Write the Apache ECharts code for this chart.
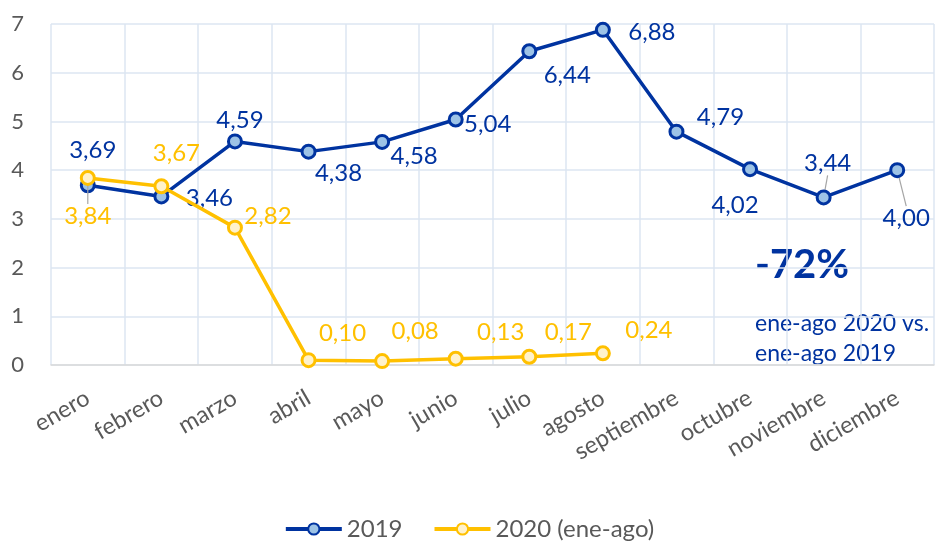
<!DOCTYPE html>
<html>
<head>
<meta charset="utf-8">
<script src="https://cdn.jsdelivr.net/npm/echarts@6/dist/echarts.min.js"></script>
<style>
html,body{margin:0;padding:0;background:#fff;}
#chart{width:938px;height:548px;}
</style>
</head>
<body>
<div id="chart"></div>
<script>
var categories = ['enero','febrero','marzo','abril','mayo','junio','julio','agosto','septiembre','octubre','noviembre','diciembre'];
var values2019 = [3.69, 3.46, 4.59, 4.38, 4.58, 5.04, 6.44, 6.88, 4.79, 4.02, 3.44, 4.00];
var values2020 = [3.84, 3.67, 2.82, 0.10, 0.08, 0.13, 0.17, 0.24];
var yTicks = [0,1,2,3,4,5,6,7];

// label offsets (dx, dy) from the point to the label centre
var off2019 = [[5,-35],[48,2],[5,-21],[30,22],[32,14],[32,5],[38,24],[49,2],[44,-14],[-15,36],[4,-34],[9,48]];
var off2020 = [[0,38],[15,-33],[33,-11],[34,-27],[33,-30],[45,-26],[39,-24],[46,-23]];
var leader2019 = [false,false,false,false,false,false,false,false,false,false,true,true];
var leader2020 = [true,false,false,false,false,false,false,false];

var FONT = 'Lato, "Open Sans", sans-serif';
var BLUE = '#0033A0';
var YEL = '#FFC000';

function fmt(v){ return v.toFixed(2).replace('.', ','); }

function buildData(vals, leaders){
  return vals.map(function(v,i){
    return {value: v, labelLine: {show: leaders[i], lineStyle:{color:'#A6A6A6', width:1.2}}};
  });
}

var chart = echarts.init(document.getElementById('chart'));
chart.setOption({
  animation: false,
  textStyle: {fontFamily: FONT},
  grid: {left: 51, right: 4, top: 24, bottom: 183, containLabel: false},
  xAxis: {
    type: 'category',
    data: categories,
    boundaryGap: true,
    axisLine: {show: true, lineStyle: {color: '#D9D9D9', width: 1.5}},
    axisTick: {show: false},
    splitLine: {show: true, interval: 0, lineStyle: {color: '#DCE6F2', width: 1.5}},
    axisLabel: {interval: 0, rotate: 30, color: '#595959', fontSize: 23.5, fontFamily: FONT, margin: 31}
  },
  yAxis: {
    type: 'value',
    min: yTicks[0],
    max: yTicks[yTicks.length-1],
    interval: 1,
    axisLine: {show: false},
    axisTick: {show: false},
    splitLine: {show: true, lineStyle: {color: '#DCE6F2', width: 1.5}},
    axisLabel: {color: '#595959', fontSize: 22, fontFamily: FONT, margin: 27}
  },
  legend: {
    bottom: 2,
    left: 'center',
    itemWidth: 56,
    itemHeight: 14,
    itemGap: 30,
    lineStyle: {width: 4},
    textStyle: {color: '#595959', fontSize: 24, fontFamily: FONT},
    data: ['2019', '2020 (ene-ago)']
  },
  series: [
    {
      name: '2019',
      type: 'line',
      data: buildData(values2019, leader2019),
      symbol: 'circle',
      symbolSize: 13,
      lineStyle: {color: BLUE, width: 3.5},
      itemStyle: {color: '#9DC3E6', borderColor: BLUE, borderWidth: 3},
      label: {show: true, position: 'inside', color: BLUE, fontSize: 24, fontFamily: FONT,
        formatter: function(p){ return fmt(p.value); }},
      labelLine: {show: false, smooth: false, minTurnAngle: 0, lineStyle:{color:'#A6A6A6', width:1.2}},
      labelLayout: function(p){
        var o = off2019[p.dataIndex];
        return {dx: o[0], dy: o[1]};
      },
      z: 3
    },
    {
      name: '2020 (ene-ago)',
      type: 'line',
      data: buildData(values2020, leader2020),
      symbol: 'circle',
      symbolSize: 13,
      lineStyle: {color: YEL, width: 3.5},
      itemStyle: {color: '#FFF2CC', borderColor: YEL, borderWidth: 3},
      label: {show: true, position: 'inside', color: YEL, fontSize: 24, fontFamily: FONT,
        formatter: function(p){ return fmt(p.value); }},
      labelLine: {show: false, lineStyle:{color:'#A6A6A6', width:1.2}},
      labelLayout: function(p){
        var o = off2020[p.dataIndex];
        return {dx: o[0], dy: o[1]};
      },
      z: 4
    }
  ],
  graphic: [
    {type: 'text', left: 755, top: 245, style: {text: '-72%', fill: BLUE, font: 'bold 40px ' + FONT}},
    {type: 'text', left: 755, top: 312, style: {text: 'ene-ago 2020 vs.', fill: BLUE, font: '23px ' + FONT}},
    {type: 'text', left: 755, top: 342, style: {text: 'ene-ago 2019', fill: BLUE, font: '23px ' + FONT}}
  ]
});
</script>
</body>
</html>
